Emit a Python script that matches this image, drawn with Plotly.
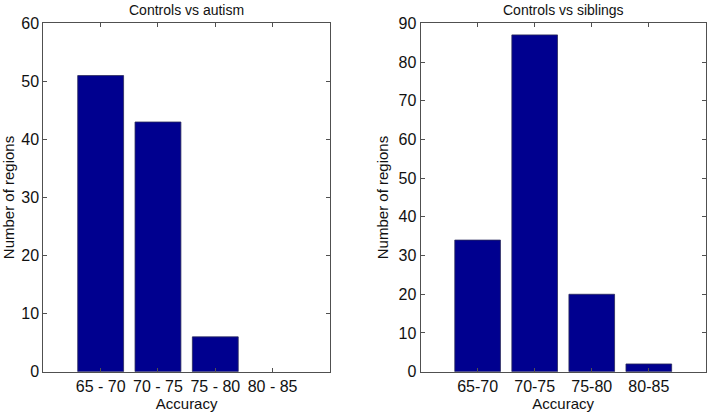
import plotly.graph_objects as go
from plotly.subplots import make_subplots

cats_autism = ["65 - 70", "70 - 75", "75 - 80", "80 - 85"]
vals_autism = [51, 43, 6, 0]
cats_sib = ["65-70", "70-75", "75-80", "80-85"]
vals_sib = [34, 87, 20, 2]
pos = [1, 2, 3, 4]

bar_color = "#00008F"
edge_color = "#2a2a5a"
axis_color = "#505050"
font = "Liberation Sans, Arial, sans-serif"
txt = "#111111"


def edge_widths(vals):
    return [0.8 if v > 0 else 0 for v in vals]


fig = make_subplots(rows=1, cols=2)
fig.add_trace(go.Bar(x=pos, y=vals_autism, width=0.8, showlegend=False,
                     marker=dict(color=bar_color, line=dict(color=edge_color, width=edge_widths(vals_autism)))),
              row=1, col=1)
fig.add_trace(go.Bar(x=pos, y=vals_sib, width=0.8, showlegend=False,
                     marker=dict(color=bar_color, line=dict(color=edge_color, width=edge_widths(vals_sib)))),
              row=1, col=2)

common_x = dict(range=[0, 5], tickmode="array", tickvals=pos, ticks="inside", ticklen=4,
                tickcolor=axis_color, showline=True, linecolor=axis_color, linewidth=1,
                mirror="ticks", showgrid=False, zeroline=False, automargin=False,
                tickfont=dict(family=font, size=16, color=txt),
                title=dict(text="Accuracy", font=dict(family=font, size=15, color=txt), standoff=3))
common_y = dict(ticks="inside", ticklen=4, tickcolor=axis_color, showline=True, linecolor=axis_color,
                linewidth=1, mirror="ticks", showgrid=False, zeroline=False, automargin=False,
                tickfont=dict(family=font, size=16, color=txt), dtick=10,
                title=dict(text="Number of regions", font=dict(family=font, size=15, color=txt), standoff=6))

fig.update_xaxes(**common_x)
fig.update_xaxes(ticktext=cats_autism, domain=[0.0612, 0.466], row=1, col=1)
fig.update_xaxes(ticktext=cats_sib, domain=[0.594, 0.997], row=1, col=2)
fig.update_yaxes(**common_y)
fig.update_yaxes(range=[0, 60], domain=[0.1, 0.9436], row=1, col=1)
fig.update_yaxes(range=[0, 90], domain=[0.1, 0.9436], row=1, col=2)

fig.add_annotation(text="Controls vs autism", x=(0.0612 + 0.466) / 2, y=1.0, xref="paper", yref="paper",
                   xanchor="center", yanchor="top", showarrow=False, yshift=0,
                   font=dict(family=font, size=14, color=txt))
fig.add_annotation(text="Controls vs siblings", x=(0.594 + 0.997) / 2, y=1.0, xref="paper", yref="paper",
                   xanchor="center", yanchor="top", showarrow=False, yshift=0,
                   font=dict(family=font, size=14, color=txt))

fig.update_layout(width=708, height=413, margin=dict(l=0, r=0, t=0, b=0),
                  plot_bgcolor="white", paper_bgcolor="white", bargap=0.2)
fig.write_html("out.html", config={"displayModeBar": False},
               post_script="document.body.style.margin='0px';document.body.style.overflow='hidden';")
